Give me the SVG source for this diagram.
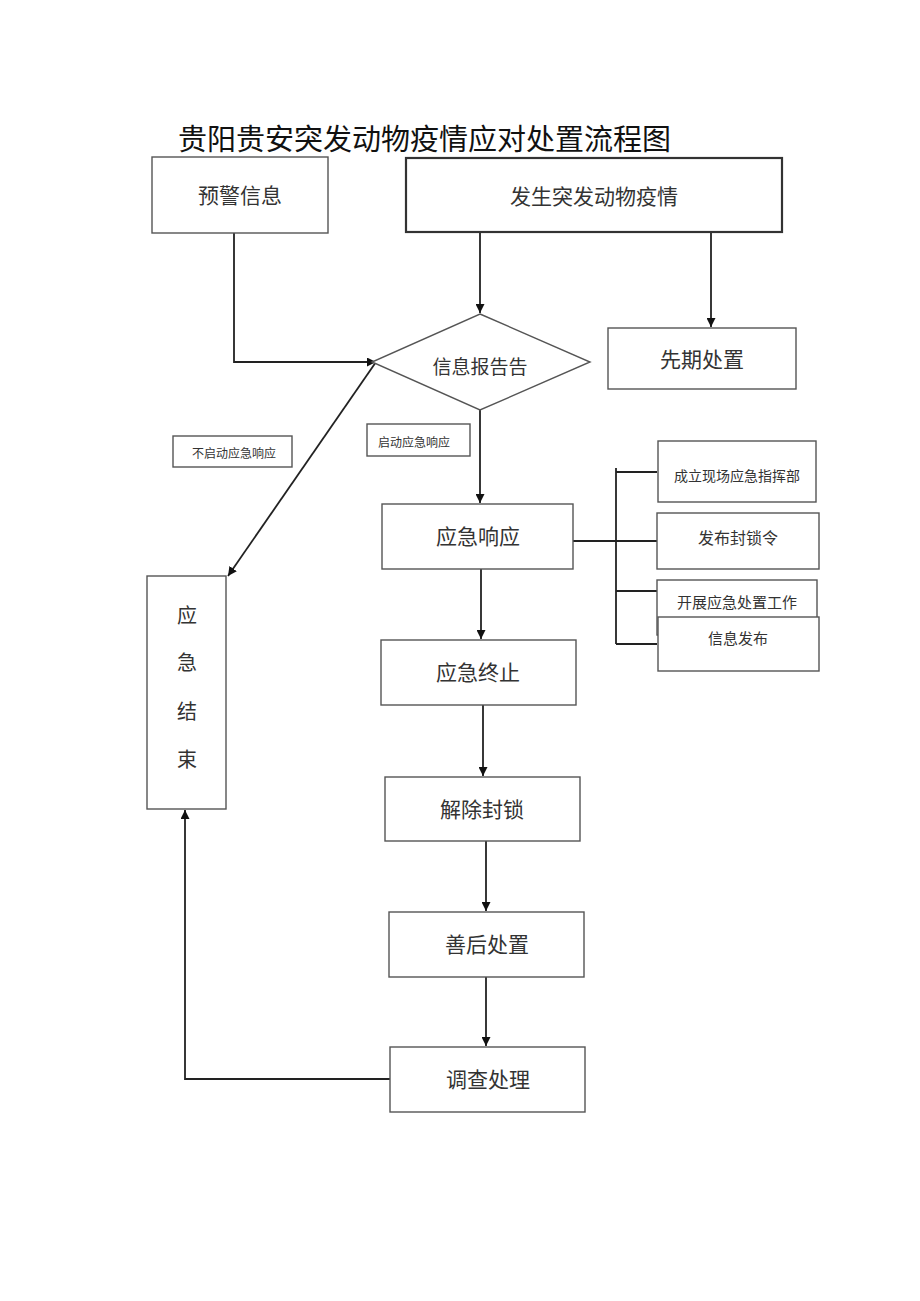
<svg xmlns="http://www.w3.org/2000/svg" width="920" height="1301" viewBox="0 0 920 1301">
<style>
.box{fill:#fff;stroke:#555;stroke-width:1.4}
.thick{fill:#fff;stroke:#333;stroke-width:2.2}
.t{font-family:"Noto Sans CJK SC","Noto Sans CJK JP",sans-serif;fill:#333;text-anchor:middle;dominant-baseline:central}
.c{fill:none;stroke:#222;stroke-width:1.8}
</style>
<defs>
<marker id="arr" viewBox="0 0 10 10" refX="10" refY="5" markerWidth="9" markerHeight="9" orient="auto" markerUnits="userSpaceOnUse">
<path d="M0,0 L10,5 L0,10 z" fill="#111"/>
</marker>
</defs>
<rect width="920" height="1301" fill="#fff"/>
<text x="178" y="137" font-family="Noto Sans CJK SC,sans-serif" font-size="29" fill="#111" dominant-baseline="central">贵阳贵安突发动物疫情应对处置流程图</text>

<g id="connectors">
<polyline class="c" points="234,233 234,362 376,362" marker-end="url(#arr)"/>
<line class="c" x1="480" y1="232" x2="480" y2="313" marker-end="url(#arr)"/>
<line class="c" x1="711" y1="232" x2="711" y2="327" marker-end="url(#arr)"/>
<line class="c" x1="480" y1="410" x2="480" y2="503" marker-end="url(#arr)"/>
<line class="c" x1="376" y1="362" x2="228" y2="576" marker-end="url(#arr)"/>
<line class="c" x1="481" y1="569" x2="481" y2="639" marker-end="url(#arr)"/>
<line class="c" x1="483" y1="705" x2="483" y2="776" marker-end="url(#arr)"/>
<line class="c" x1="486" y1="841" x2="486" y2="911" marker-end="url(#arr)"/>
<line class="c" x1="486" y1="977" x2="486" y2="1046" marker-end="url(#arr)"/>
<polyline class="c" points="390,1079 185,1079 185,810" marker-end="url(#arr)"/>
<line class="c" x1="573" y1="541" x2="657" y2="541"/>
<line class="c" x1="616" y1="468" x2="616" y2="644"/>
<line class="c" x1="616" y1="472" x2="657" y2="472"/>
<line class="c" x1="616" y1="591" x2="657" y2="591"/>
<line class="c" x1="616" y1="644" x2="657" y2="644"/>
</g>

<g id="yujing"><rect class="box" x="152" y="157" width="176" height="76"/><text class="t" x="240" y="194" font-size="21">预警信息</text></g>
<g id="fasheng"><rect class="thick" x="406" y="158" width="376" height="74"/><text class="t" x="594" y="195" font-size="21">发生突发动物疫情</text></g>
<g id="baogao"><polygon class="box" points="480,314 590,362 480,410 372,362"/><text class="t" x="480" y="365" font-size="19">信息报告告</text></g>
<g id="xianqi"><rect class="box" x="608" y="328" width="188" height="61"/><text class="t" x="702" y="358" font-size="21">先期处置</text></g>
<g id="qidong"><rect class="box" x="367" y="424" width="103" height="32"/><text class="t" x="414" y="441" font-size="12">启动应急响应</text></g>
<g id="buqidong"><rect class="box" x="173" y="436" width="119" height="31"/><text class="t" x="234" y="452" font-size="12">不启动应急响应</text></g>
<g id="xiangying"><rect class="box" x="382" y="504" width="191" height="65"/><text class="t" x="478" y="535" font-size="21">应急响应</text></g>
<g id="jieshu"><rect class="box" x="147" y="576" width="79" height="233"/>
<text class="t" x="187" y="614" font-size="20">应</text><text class="t" x="187" y="661" font-size="20">急</text><text class="t" x="187" y="710" font-size="20">结</text><text class="t" x="187" y="758" font-size="20">束</text></g>
<g id="zhihuibu"><rect class="box" x="658" y="441" width="158" height="61"/><text class="t" x="737" y="475" font-size="14">成立现场应急指挥部</text></g>
<g id="fengsuoling"><rect class="box" x="657" y="513" width="162" height="56"/><text class="t" x="738" y="537" font-size="16">发布封锁令</text></g>
<g id="kaizhan"><rect class="box" x="657" y="580" width="160" height="55"/><text class="t" x="737" y="601" font-size="15">开展应急处置工作</text></g>
<g id="xinxifabu"><rect class="box" x="658" y="617" width="161" height="54"/><text class="t" x="738" y="637" font-size="15">信息发布</text></g>
<g id="zhongzhi"><rect class="box" x="381" y="640" width="195" height="65"/><text class="t" x="478" y="671" font-size="21">应急终止</text></g>
<g id="jiechu"><rect class="box" x="385" y="777" width="195" height="64"/><text class="t" x="482" y="808" font-size="21">解除封锁</text></g>
<g id="shanhou"><rect class="box" x="389" y="912" width="195" height="65"/><text class="t" x="487" y="943" font-size="21">善后处置</text></g>
<g id="diaocha"><rect class="box" x="390" y="1047" width="195" height="65"/><text class="t" x="488" y="1078" font-size="21">调查处理</text></g>
</svg>
